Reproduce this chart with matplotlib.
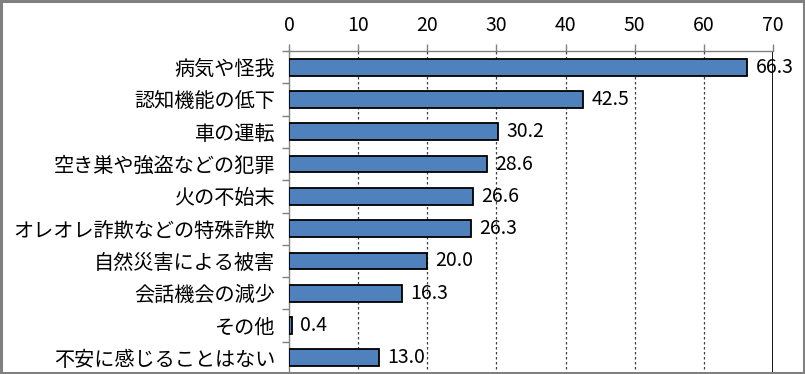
import numpy as np
import matplotlib.pyplot as plt
from matplotlib.patches import Rectangle

plt.rcParams['font.family'] = ['Noto Sans CJK JP', 'DejaVu Sans']

## Data
categories = ['病気や怪我', '認知機能の低下', '車の運転', '空き巣や強盗などの犯罪',
              '火の不始末', 'オレオレ詐欺などの特殊詐欺', '自然災害による被害',
              '会話機会の減少', 'その他', '不安に感じることはない']
values = [66.3, 42.5, 30.2, 28.6, 26.6, 26.3, 20.0, 16.3, 0.4, 13.0]
xticks = [0, 10, 20, 30, 40, 50, 60, 70]

fig = plt.figure(figsize=(8.05, 3.74), dpi=100)
ax = fig.add_axes([289 / 805, 0.0, 484 / 805, 1 - 51 / 374])

y = np.arange(len(categories))
ax.barh(y, values, height=0.52, color='#4F81BD', edgecolor='black', linewidth=1.3, zorder=3)

for yi, v in zip(y, values):
    ax.annotate(f'{v:.1f}', (v, yi), xytext=(6, 0), textcoords='offset points',
                va='center', ha='left', fontsize=14, zorder=4)

ax.set_xlim(0, 70)
ax.set_ylim(len(categories) - 0.5, -0.5)

# x axis on top
ax.xaxis.tick_top()
ax.set_xticks(xticks)
ax.tick_params(axis='x', which='major', direction='out', length=5, width=1,
               color='#808080', labelsize=14, pad=6)

# category ticks at the boundaries
ax.set_yticks(y)
ax.set_yticklabels(categories, fontsize=14.5)
ax.set_yticks(np.arange(-0.5, len(categories)), minor=True)
ax.tick_params(axis='y', which='major', length=0, pad=10)
ax.tick_params(axis='y', which='minor', direction='out', length=5, width=1, color='#808080')

for x in xticks[1:-1]:
    ax.axvline(x, color='#404040', linestyle=(0, (2, 2)), linewidth=0.9, zorder=1)
ax.axvline(70, color='black', linewidth=2, zorder=2)

for side in ['right', 'bottom']:
    ax.spines[side].set_visible(False)
ax.spines['top'].set_color('#808080')
ax.spines['left'].set_color('#808080')
ax.spines['top'].set_linewidth(1)
ax.spines['left'].set_linewidth(1)

# gray frame around the chart
fig.patches.append(Rectangle((0.0015, 0.003), 0.997, 0.994, transform=fig.transFigure,
                             fill=False, edgecolor='#808080', linewidth=2.2))

plt.savefig('out.png', dpi=100)
